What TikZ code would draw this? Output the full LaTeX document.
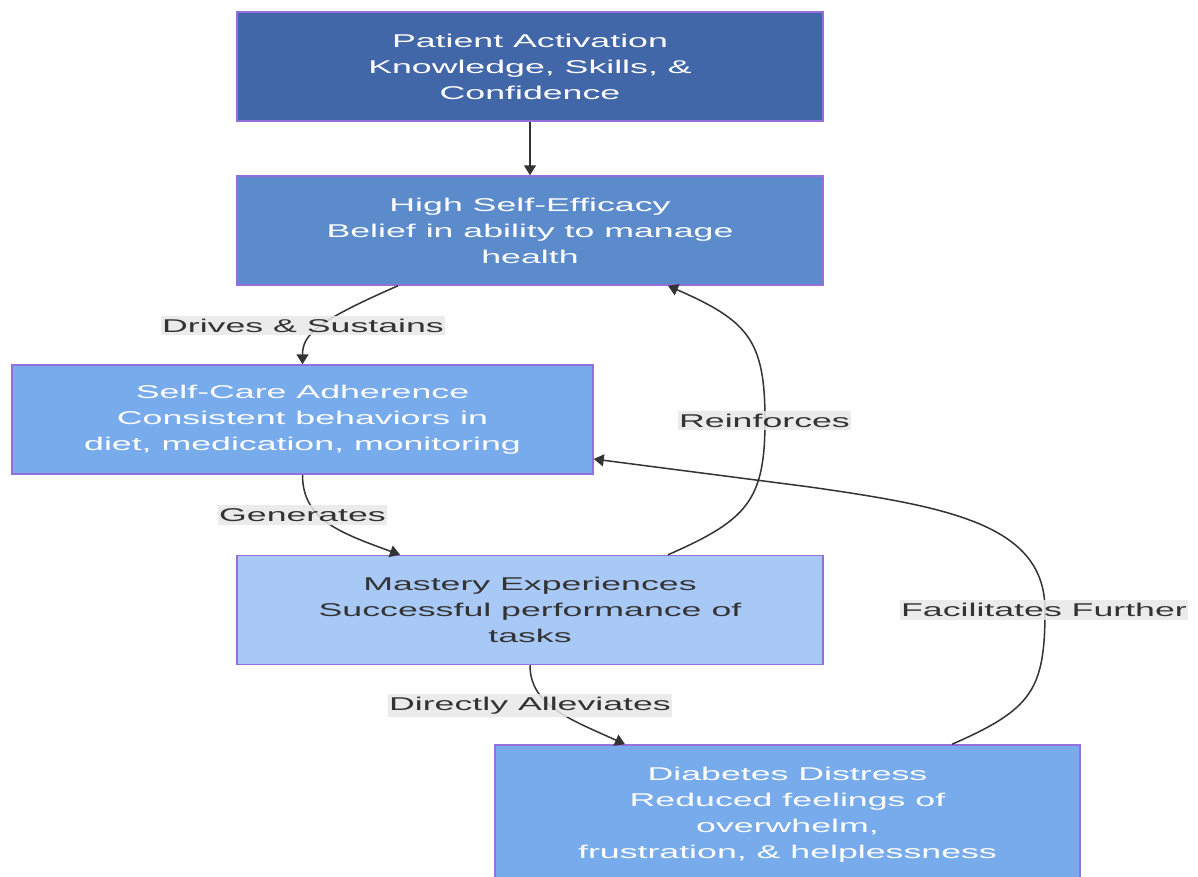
\documentclass[tikz,border=0pt]{standalone}
\usepackage{fontspec}
\setmainfont[FakeStretch=1.93]{Liberation Sans}
\usetikzlibrary{arrows.meta,calc}
\definecolor{cA}{HTML}{4267A8}
\definecolor{cB}{HTML}{5B8BCB}
\definecolor{cC}{HTML}{78ABEB}
\definecolor{cD}{HTML}{A8C8F5}
\definecolor{bordc}{HTML}{9370DB}
\definecolor{txtc}{HTML}{333333}
\definecolor{linec}{HTML}{333333}
\definecolor{lblc}{HTML}{E8E8E8}
\begin{document}
\begin{tikzpicture}[x=1pt,y=-1pt,
  box/.style={draw=bordc, line width=1.5pt, minimum width=586pt, minimum height=109pt,
    align=center, font=\fontsize{18.5}{26}\selectfont, text=white, inner sep=0pt},
  lbl/.style={fill=lblc, fill opacity=0.85, text opacity=1, text=txtc,
    font=\fontsize{18.5}{22}\selectfont, inner xsep=1pt, inner ysep=3pt},
  conn/.style={draw=linec, line width=1.5pt, -{Triangle[length=10pt,width=12pt]}}]
\useasboundingbox (0,0) rectangle (1198,876);
\clip (0,0) rectangle (1198,876);
\fill[white] (0,0) rectangle (1198,876);

\node[box, fill=cA] (pa) at (530,66.5) {Patient Activation\\Knowledge, Skills, \&\\Confidence};
\node[box, fill=cB] (se) at (530,230.5) {High Self-Efficacy\\Belief in ability to manage\\health};
\node[box, fill=cC, minimum width=581pt] (sc) at (302.5,419.5) {Self-Care Adherence\\Consistent behaviors in\\diet, medication, monitoring};
\node[box, fill=cD, text=txtc] (me) at (530,610) {Mastery Experiences\\Successful performance of\\tasks};
\node[box, fill=cC, minimum width=585pt, minimum height=140pt] (dd) at (787.5,815) {Diabetes Distress\\Reduced feelings of\\overwhelm,\\frustration, \& helplessness};

\coordinate (rv) at (765,420);
\coordinate (fv) at (1045,610);
\coordinate (fb) at (810,487);

\draw[conn] (pa.south) -- (se.north);
\draw[conn] ($(se.south)+(-132,0)$) .. controls +(-80,35) and +(0,-30) .. (sc.north);
\draw[conn] (sc.south) .. controls +(0,45) and +(-60,-22) .. ($(me.north)+(-130,0)$);
\draw[conn] ($(me.north)+(138,0)$) .. controls +(80,-35) and +(0,80) .. (rv)
  .. controls +(0,-80) and +(80,35) .. ($(se.south)+(138,0)$);
\draw[conn] ($(dd.north)+(164.5,0)$) .. controls +(80,-35) and +(0,80) .. (fv)
  .. controls +(0,-85) and +(140,20) .. (fb) -- ($(sc.east)+(0,39.5)$);
\draw[conn] (me.south) .. controls +(0,40) and +(-55,-25) .. ($(dd.north)+(-162.5,0)$);

\node[lbl] (l1) at (303,325.5) {Drives \& Sustains};
\node[lbl] (l2) at (302.5,515) {Generates};
\node[lbl] (l3) at (764.5,420.5) {Reinforces};
\node[lbl] (l4) at (1044,610) {Facilitates Further};
\node[lbl] (l5) at (530,705.5) {Directly Alleviates};
\end{tikzpicture}
\end{document}
